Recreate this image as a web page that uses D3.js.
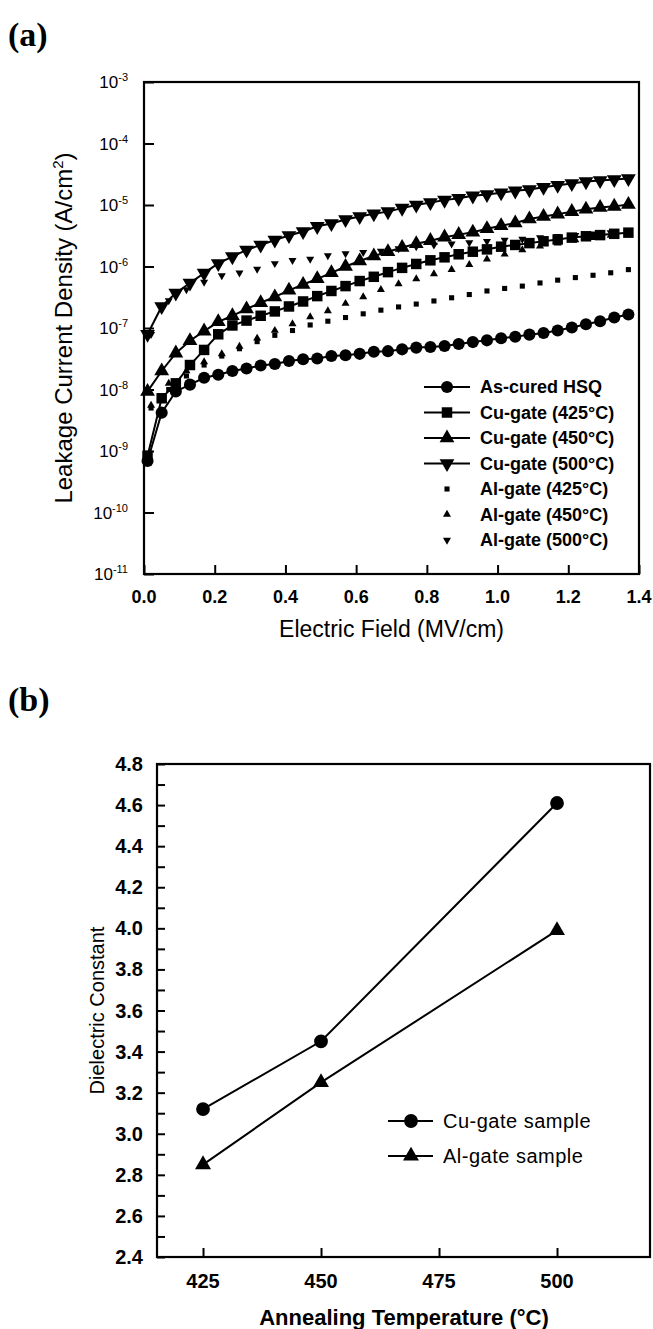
<!DOCTYPE html>
<html>
<head>
<meta charset="UTF-8">
<title>HSQ leakage and dielectric constant</title>
<script src="https://d3js.org/d3.v7.min.js"></script>
<style>
  body { margin: 0; background: #fff; }
  text { font-family: Arial, "Liberation Sans", sans-serif; fill: #000; }
  .panel { font-family: "Times New Roman", "Liberation Serif", serif; font-weight: bold; }
</style>
</head>
<body>
<svg id="fig"></svg>
<script>
// ---- panel (a): leakage current vs field ----
var fieldCu = [0.01, 0.05, 0.09, 0.13, 0.17, 0.21, 0.25, 0.29, 0.33, 0.37, 0.41, 0.45, 0.49, 0.53, 0.57, 0.61, 0.65, 0.69,
               0.73, 0.77, 0.81, 0.85, 0.89, 0.93, 0.97, 1.01, 1.05, 1.09, 1.13, 1.17, 1.21, 1.25, 1.29, 1.33, 1.37];
var fieldAl = [0.02, 0.07, 0.12, 0.17, 0.22, 0.27, 0.32, 0.37, 0.42, 0.47, 0.52, 0.57, 0.62, 0.67, 0.72, 0.77, 0.82, 0.87,
               0.92, 0.97, 1.02, 1.07, 1.12, 1.17, 1.22, 1.27, 1.32, 1.37];

var asCured = [6.9e-10, 4.2e-9, 9.3e-9, 1.2e-8, 1.55e-8, 1.74e-8, 2.0e-8, 2.2e-8, 2.45e-8, 2.6e-8, 2.9e-8, 3.1e-8,
               3.2e-8, 3.5e-8, 3.6e-8, 3.8e-8, 4.1e-8, 4.2e-8, 4.5e-8, 4.8e-8, 4.9e-8, 5.1e-8, 5.5e-8, 5.9e-8,
               6.3e-8, 6.8e-8, 7.2e-8, 7.8e-8, 8.3e-8, 9.1e-8, 1.02e-7, 1.15e-7, 1.29e-7, 1.48e-7, 1.66e-7];
var cu425 = [8.3e-10, 7.2e-9, 1.26e-8, 2.5e-8, 4.4e-8, 7.9e-8, 1.1e-7, 1.32e-7, 1.58e-7, 1.86e-7, 2.24e-7, 2.7e-7,
             3.3e-7, 4.0e-7, 4.8e-7, 5.8e-7, 6.8e-7, 8.1e-7, 9.5e-7, 1.1e-6, 1.26e-6, 1.41e-6, 1.58e-6, 1.74e-6,
             1.9e-6, 2.1e-6, 2.24e-6, 2.4e-6, 2.57e-6, 2.75e-6, 2.95e-6, 3.1e-6, 3.24e-6, 3.4e-6, 3.55e-6];
var cu450 = [9.3e-9, 2.0e-8, 3.9e-8, 6.2e-8, 8.9e-8, 1.26e-7, 1.58e-7, 2.04e-7, 2.57e-7, 3.2e-7, 4.1e-7, 5.1e-7,
             6.3e-7, 7.9e-7, 1.0e-6, 1.23e-6, 1.48e-6, 1.74e-6, 2.04e-6, 2.34e-6, 2.63e-6, 3.0e-6, 3.3e-6, 3.6e-6,
             4.1e-6, 4.6e-6, 5.1e-6, 5.9e-6, 6.5e-6, 7.1e-6, 7.8e-6, 8.5e-6, 9.1e-6, 9.5e-6, 1.02e-5];
var cu500 = [7.9e-8, 2.24e-7, 3.7e-7, 5.4e-7, 7.8e-7, 1.12e-6, 1.45e-6, 1.86e-6, 2.24e-6, 2.7e-6, 3.2e-6, 3.7e-6,
             4.5e-6, 5.0e-6, 5.8e-6, 6.5e-6, 7.2e-6, 7.8e-6, 8.9e-6, 1.0e-5, 1.1e-5, 1.2e-5, 1.29e-5, 1.41e-5,
             1.48e-5, 1.58e-5, 1.7e-5, 1.78e-5, 1.95e-5, 2.1e-5, 2.24e-5, 2.4e-5, 2.5e-5, 2.6e-5, 2.7e-5];
var al425 = [5.0e-9, 1.0e-8, 1.66e-8, 2.5e-8, 3.5e-8, 4.6e-8, 6.0e-8, 7.6e-8, 9.1e-8, 1.12e-7, 1.29e-7, 1.48e-7,
             1.7e-7, 1.95e-7, 2.2e-7, 2.45e-7, 2.75e-7, 3.1e-7, 3.5e-7, 4.0e-7, 4.4e-7, 4.8e-7, 5.4e-7, 6.0e-7,
             6.6e-7, 7.2e-7, 7.9e-7, 8.9e-7];
var al450 = [5.5e-9, 1.26e-8, 2.0e-8, 2.8e-8, 3.8e-8, 5.0e-8, 6.8e-8, 9.1e-8, 1.17e-7, 1.51e-7, 1.9e-7, 2.5e-7,
             3.2e-7, 4.2e-7, 5.2e-7, 6.3e-7, 7.6e-7, 8.9e-7, 1.07e-6, 1.32e-6, 1.58e-6, 1.86e-6, 2.14e-6, 2.4e-6,
             2.7e-6, 2.95e-6, 3.2e-6, 3.55e-6];
var al500 = [7.9e-8, 2.8e-7, 4.2e-7, 5.6e-7, 7.1e-7, 7.9e-7, 9.1e-7, 1.12e-6, 1.26e-6, 1.32e-6, 1.51e-6, 1.62e-6,
             1.7e-6, 1.78e-6, 1.95e-6, 2.1e-6, 2.24e-6, 2.34e-6, 2.45e-6, 2.57e-6, 2.7e-6, 2.8e-6, 2.95e-6, 3.1e-6,
             3.2e-6, 3.4e-6, 3.55e-6, 3.7e-6];

var fieldTicks = [0.0, 0.2, 0.4, 0.6, 0.8, 1.0, 1.2, 1.4];
var densityExps = [-3, -4, -5, -6, -7, -8, -9, -10, -11];

// ---- panel (b): dielectric constant vs annealing temperature ----
var annealTemps = [425, 450, 500];
var kCu = [3.12, 3.45, 4.61];
var kAl = [2.85, 3.25, 3.99];
var tempTicks = [425, 450, 475, 500];
var kTicks = [2.4, 2.6, 2.8, 3.0, 3.2, 3.4, 3.6, 3.8, 4.0, 4.2, 4.4, 4.6, 4.8];

var W = 653, H = 1329;
var svg = d3.select("#fig").attr("width", W).attr("height", H);

svg.append("text").attr("class", "panel").attr("x", 8).attr("y", 46).attr("font-size", 34).text("(a)");
svg.append("text").attr("class", "panel").attr("x", 8).attr("y", 711).attr("font-size", 34).text("(b)");

// ===== panel (a) =====
var ax = {l: 144, r: 639, t: 82, b: 574};
var xA = d3.scaleLinear().domain([0, 1.4]).range([ax.l, ax.r]);
var yA = d3.scaleLog().domain([1e-11, 1e-3]).range([ax.b, ax.t]);
var gA = svg.append("g");

// ticks inward
gA.append("g").attr("transform", "translate(0," + ax.b + ")")
  .call(d3.axisBottom(xA).tickValues(fieldTicks).tickSize(-9).tickFormat(""))
  .call(function(g) { g.select(".domain").remove(); g.selectAll("line").attr("stroke-width", 2); });
gA.append("g").attr("transform", "translate(" + ax.l + ",0)")
  .call(d3.axisLeft(yA).tickValues(densityExps.map(function(e) { return Math.pow(10, e); })).tickSize(-10).tickFormat(""))
  .call(function(g) { g.select(".domain").remove(); g.selectAll("line").attr("stroke-width", 2); });

// tick labels
gA.selectAll(".xlab").data(fieldTicks).enter().append("text")
  .attr("x", function(d) { return xA(d); }).attr("y", 603)
  .attr("text-anchor", "middle").attr("font-size", 18).attr("font-weight", "bold")
  .text(function(d) { return d.toFixed(1); });
var ylab = gA.selectAll(".ylab").data(densityExps).enter().append("text")
  .attr("x", 128).attr("y", function(d) { return yA(Math.pow(10, d)) + 6; })
  .attr("text-anchor", "end").attr("font-size", 17);
ylab.append("tspan").text("10");
ylab.append("tspan").attr("font-size", 11).attr("dy", -7).text(function(d) { return d; });

gA.append("rect").attr("x", ax.l).attr("y", ax.t).attr("width", ax.r - ax.l).attr("height", ax.b - ax.t)
  .attr("fill", "none").attr("stroke", "#000").attr("stroke-width", 2.2);

gA.append("text").attr("x", (ax.l + ax.r) / 2).attr("y", 637).attr("text-anchor", "middle")
  .attr("font-size", 23).text("Electric Field (MV/cm)");
var yTitle = gA.append("text").attr("transform", "translate(72," + (ax.t + ax.b) / 2 + ") rotate(-90)")
  .attr("text-anchor", "middle").attr("font-size", 24);
yTitle.append("tspan").text("Leakage Current Density (A/cm");
yTitle.append("tspan").attr("font-size", 15).attr("dy", -9).text("2");
yTitle.append("tspan").attr("dy", 9).text(")");

var seriesA = [
  {name: "As-cured HSQ", x: fieldCu, y: asCured, type: d3.symbolCircle, size: 115, down: false, line: true},
  {name: "Cu-gate (425\u00B0C)", x: fieldCu, y: cu425, type: d3.symbolSquare, size: 110, down: false, line: true},
  {name: "Cu-gate (450\u00B0C)", x: fieldCu, y: cu450, type: d3.symbolTriangle, size: 95, down: false, line: true},
  {name: "Cu-gate (500\u00B0C)", x: fieldCu, y: cu500, type: d3.symbolTriangle, size: 95, down: true, line: true},
  {name: "Al-gate (425\u00B0C)", x: fieldAl, y: al425, type: d3.symbolSquare, size: 26, down: false, line: false},
  {name: "Al-gate (450\u00B0C)", x: fieldAl, y: al450, type: d3.symbolTriangle, size: 28, down: false, line: false},
  {name: "Al-gate (500\u00B0C)", x: fieldAl, y: al500, type: d3.symbolTriangle, size: 28, down: true, line: false}
];
var lineA = d3.line().x(function(d) { return xA(d[0]); }).y(function(d) { return yA(d[1]); });

seriesA.forEach(function(s) {
  var pts = s.x.map(function(v, i) { return [v, s.y[i]]; });
  if (s.line) {
    gA.append("path").datum(pts).attr("d", lineA).attr("fill", "none").attr("stroke", "#000").attr("stroke-width", 2);
  }
  gA.append("g").selectAll("path").data(pts).enter().append("path")
    .attr("d", d3.symbol().type(s.type).size(s.size))
    .attr("transform", function(d) { return "translate(" + xA(d[0]) + "," + yA(d[1]) + ")" + (s.down ? " rotate(180)" : ""); })
    .attr("fill", "#000");
});

// legend (a)
var legA = gA.append("g");
seriesA.forEach(function(s, i) {
  var yy = 387 + i * 25.5;
  if (s.line) legA.append("line").attr("x1", 424).attr("x2", 470).attr("y1", yy).attr("y2", yy)
    .attr("stroke", "#000").attr("stroke-width", 2);
  legA.append("path").attr("d", d3.symbol().type(s.type).size(s.size))
    .attr("transform", "translate(447," + yy + ")" + (s.down ? " rotate(180)" : "")).attr("fill", "#000");
  legA.append("text").attr("x", 480).attr("y", yy + 6).attr("font-size", 18).attr("font-weight", "bold").text(s.name);
});

// ===== panel (b) =====
var bx = {l: 157, r: 650, t: 764, b: 1257};
var xB = d3.scaleLinear().domain([415.25, 519.7]).range([bx.l, bx.r]);
var yB = d3.scaleLinear().domain([2.4, 4.8]).range([bx.b, bx.t]);
var gB = svg.append("g");

gB.append("g").attr("transform", "translate(0," + bx.b + ")")
  .call(d3.axisBottom(xB).tickValues(tempTicks).tickSize(-9).tickFormat(""))
  .call(function(g) { g.select(".domain").remove(); g.selectAll("line").attr("stroke-width", 2); });
gB.append("g").attr("transform", "translate(" + bx.l + ",0)")
  .call(d3.axisLeft(yB).ticks(24).tickSize(-8).tickFormat(""))
  .call(function(g) { g.select(".domain").remove(); g.selectAll("line").attr("stroke-width", 2); });

gB.selectAll(".xlab").data(tempTicks).enter().append("text")
  .attr("x", function(d) { return xB(d); }).attr("y", 1288)
  .attr("text-anchor", "middle").attr("font-size", 20).attr("font-weight", "bold").text(function(d) { return d; });
gB.selectAll(".ylab").data(kTicks).enter().append("text")
  .attr("x", 143).attr("y", function(d) { return yB(d) + 7; })
  .attr("text-anchor", "end").attr("font-size", 20).attr("font-weight", "bold")
  .text(function(d) { return d.toFixed(1); });

gB.append("rect").attr("x", bx.l).attr("y", bx.t).attr("width", bx.r - bx.l).attr("height", bx.b - bx.t)
  .attr("fill", "none").attr("stroke", "#000").attr("stroke-width", 2.2);

gB.append("text").attr("x", 404).attr("y", 1325).attr("text-anchor", "middle")
  .attr("font-size", 22).attr("font-weight", "bold").text("Annealing Temperature (\u00B0C)");
gB.append("text").attr("transform", "translate(104," + (bx.t + bx.b) / 2 + ") rotate(-90)")
  .attr("text-anchor", "middle").attr("font-size", 20).text("Dielectric Constant");

var seriesB = [
  {name: "Cu-gate sample", y: kCu, type: d3.symbolCircle, size: 150},
  {name: "Al-gate sample", y: kAl, type: d3.symbolTriangle, size: 110}
];
var lineB = d3.line().x(function(d) { return xB(d[0]); }).y(function(d) { return yB(d[1]); });
seriesB.forEach(function(s, i) {
  var pts = annealTemps.map(function(t, j) { return [t, s.y[j]]; });
  gB.append("path").datum(pts).attr("d", lineB).attr("fill", "none").attr("stroke", "#000").attr("stroke-width", 2);
  gB.append("g").selectAll("path").data(pts).enter().append("path")
    .attr("d", d3.symbol().type(s.type).size(s.size))
    .attr("transform", function(d) { return "translate(" + xB(d[0]) + "," + yB(d[1]) + ")"; })
    .attr("fill", "#000");
  var yy = 1121 + i * 35;
  gB.append("line").attr("x1", 388).attr("x2", 433).attr("y1", yy).attr("y2", yy).attr("stroke", "#000").attr("stroke-width", 2);
  gB.append("path").attr("d", d3.symbol().type(s.type).size(s.size)).attr("transform", "translate(411," + yy + ")").attr("fill", "#000");
  gB.append("text").attr("x", 443).attr("y", yy + 7).attr("font-size", 20).attr("letter-spacing", 0.5).text(s.name);
});
</script>
</body>
</html>
